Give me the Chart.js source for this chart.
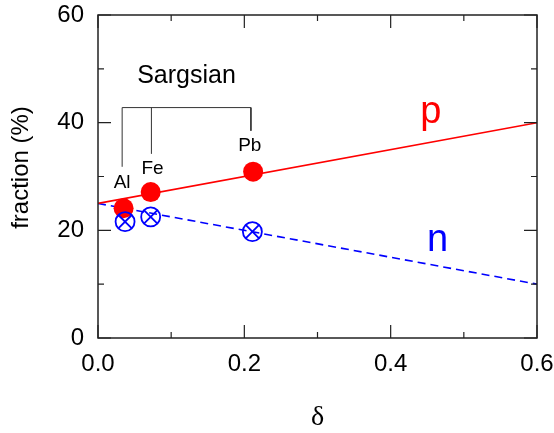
<!DOCTYPE html>
<html>
<head>
<meta charset="utf-8">
<script src="https://cdn.jsdelivr.net/npm/chart.js@4.4.1/dist/chart.umd.min.js"></script>
<style>
  html, body { margin: 0; padding: 0; background: #fff; }
  #wrap { width: 554px; height: 433px; }
</style>
</head>
<body>
<div id="wrap"><canvas id="fractionChart" width="554" height="433"></canvas></div>
<script>
// axis ticks
const xTickValues = [0, 0.2, 0.4, 0.6];
const xMinorTicks = [0.1, 0.3, 0.5];
const yTickValues = [0, 20, 40, 60];
const yMinorTicks = [10, 30, 50];

// fitted lines (delta -> fraction)
const lineDelta = [0, 0.6];
const protonLine = [25, 40];
const neutronLine = [25, 10];

// measured points
const nuclei = ['Al', 'Fe', 'Pb'];
const protonDelta = [0.035, 0.072, 0.212];
const protonFrac = [24.1, 27.1, 30.9];
const neutronDelta = [0.037, 0.072, 0.211];
const neutronFrac = [21.6, 22.5, 19.75];

// "Sargsian" bracket
const bracketDelta = [0.033, 0.073, 0.209];
const bracketBottom = [31.8, 34.2, 38.5];
const bracketTop = 42.8;

// text labels in data coordinates
const nucleusLabelPos = [[0.033, 27.8], [0.0745, 30.5], [0.2075, 34.8]];
const textLabels = [
  { text: 'Sargsian', x: 0.121, y: 47.4, size: 25, color: '#000' },
  { text: 'p', x: 0.455, y: 39.9, size: 38, color: '#ff0000' },
  { text: 'n', x: 0.464, y: 16.1, size: 38, color: '#0000ff' }
];

const FONT = '"Liberation Sans", Arial, sans-serif';
const RED = '#ff0000';
const BLUE = '#0000ff';
const FRAME = '#222';

const toPoints = (xs, ys) => xs.map((x, i) => ({ x, y: ys[i] }));

// keep tick labels from pushing the plot area around
const noOverflow = (s) => {
  s.paddingTop = 0; s.paddingBottom = 0;
  s.paddingLeft = 0; s.paddingRight = 0;
};

const FractionChart = {
  chart: null,

  init() {
    const ctx = document.getElementById('fractionChart').getContext('2d');
    this.chart = new Chart(ctx, {
      type: 'scatter',
      data: { datasets: this.buildDatasets() },
      options: this.buildOptions(),
      plugins: [this.framePlugin()]
    });
  },

  buildDatasets() {
    const bracketMain = [
      { x: bracketDelta[0], y: bracketBottom[0] },
      { x: bracketDelta[0], y: bracketTop },
      { x: bracketDelta[2], y: bracketTop },
      { x: bracketDelta[2], y: bracketBottom[2] }
    ];
    const bracketFe = [
      { x: bracketDelta[1], y: bracketBottom[1] },
      { x: bracketDelta[1], y: bracketTop }
    ];
    const lineStyle = { showLine: true, pointRadius: 0, fill: false, tension: 0 };

    return [
      { label: 'n circle', data: toPoints(neutronDelta, neutronFrac), order: 0,
        pointStyle: 'circle', pointRadius: 9.5, pointBorderWidth: 1.8,
        pointBorderColor: BLUE, pointBackgroundColor: 'rgba(0,0,0,0)' },
      { label: 'n cross', data: toPoints(neutronDelta, neutronFrac), order: 0,
        pointStyle: 'crossRot', pointRadius: 9.5, pointBorderWidth: 1.8,
        pointBorderColor: BLUE },
      { label: 'p', data: toPoints(protonDelta, protonFrac), order: 1,
        pointStyle: 'circle', pointRadius: 10, pointBorderWidth: 0,
        pointBackgroundColor: RED, pointBorderColor: RED },
      { label: 'p fit', data: toPoints(lineDelta, protonLine), order: 2,
        borderColor: RED, borderWidth: 1.6, ...lineStyle },
      { label: 'n fit', data: toPoints(lineDelta, neutronLine), order: 2,
        borderColor: BLUE, borderWidth: 1.6, borderDash: [8, 5], ...lineStyle },
      { label: 'bracket', data: bracketMain, order: 3,
        borderColor: '#333', borderWidth: 1, ...lineStyle },
      { label: 'bracket Fe', data: bracketFe, order: 3,
        borderColor: '#333', borderWidth: 1, ...lineStyle }
    ];
  },

  buildOptions() {
    return {
      responsive: false,
      animation: false,
      events: [],
      layout: { padding: { top: 15, right: 17, left: 0, bottom: 0 } },
      plugins: { legend: { display: false }, tooltip: { enabled: false } },
      scales: {
        x: {
          type: 'linear', min: 0, max: 0.6,
          afterFit: (s) => { s.height = 95; noOverflow(s); },
          afterBuildTicks: (s) => { s.ticks = xTickValues.map(v => ({ value: v })); },
          grid: { display: false, drawTicks: false },
          border: { display: false },
          ticks: {
            padding: 12, color: '#000', font: { family: FONT, size: 24 },
            maxRotation: 0, callback: (v) => Number(v).toFixed(1)
          }
        },
        y: {
          type: 'linear', min: 0, max: 60,
          afterFit: (s) => { s.width = 98; noOverflow(s); },
          afterBuildTicks: (s) => { s.ticks = yTickValues.map(v => ({ value: v })); },
          grid: { display: false, drawTicks: false },
          border: { display: false },
          ticks: { padding: 14, color: '#000', font: { family: FONT, size: 24 } }
        }
      }
    };
  },

  /**
   * Box frame with inward ticks, plus titles and annotation text
   */
  framePlugin() {
    return {
      id: 'frame',
      afterDraw: (chart) => {
        const { ctx, chartArea: a, scales: { x, y } } = chart;
        ctx.save();
        ctx.strokeStyle = FRAME;
        ctx.lineWidth = 1.5;
        ctx.strokeRect(a.left, a.top, a.right - a.left, a.bottom - a.top);

        ctx.lineWidth = 1.2;
        const tick = (v, len, horiz) => {
          ctx.beginPath();
          if (horiz) {
            const px = x.getPixelForValue(v);
            ctx.moveTo(px, a.bottom); ctx.lineTo(px, a.bottom - len);
            ctx.moveTo(px, a.top); ctx.lineTo(px, a.top + len);
          } else {
            const py = y.getPixelForValue(v);
            ctx.moveTo(a.left, py); ctx.lineTo(a.left + len, py);
            ctx.moveTo(a.right, py); ctx.lineTo(a.right - len, py);
          }
          ctx.stroke();
        };
        xTickValues.forEach(v => tick(v, 13, true));
        xMinorTicks.forEach(v => tick(v, 6, true));
        yTickValues.forEach(v => tick(v, 13, false));
        yMinorTicks.forEach(v => tick(v, 6, false));

        // annotation text
        ctx.textAlign = 'center';
        ctx.textBaseline = 'alphabetic';
        nuclei.forEach((name, i) => {
          ctx.fillStyle = '#000';
          ctx.font = `19px ${FONT}`;
          ctx.fillText(name, x.getPixelForValue(nucleusLabelPos[i][0]), y.getPixelForValue(nucleusLabelPos[i][1]));
        });
        textLabels.forEach(t => {
          ctx.fillStyle = t.color;
          ctx.font = `${t.size}px ${FONT}`;
          ctx.fillText(t.text, x.getPixelForValue(t.x), y.getPixelForValue(t.y));
        });

        // axis titles
        ctx.fillStyle = '#000';
        ctx.textBaseline = 'middle';
        ctx.font = `28px "Liberation Serif", "Times New Roman", serif`;
        ctx.fillText('δ', (a.left + a.right) / 2, 418);

        ctx.translate(21.5, 167.5);
        ctx.rotate(-Math.PI / 2);
        ctx.font = `24px ${FONT}`;
        ctx.fillText('fraction (%)', 0, 0);
        ctx.restore();
      }
    };
  }
};

FractionChart.init();
</script>
</body>
</html>
